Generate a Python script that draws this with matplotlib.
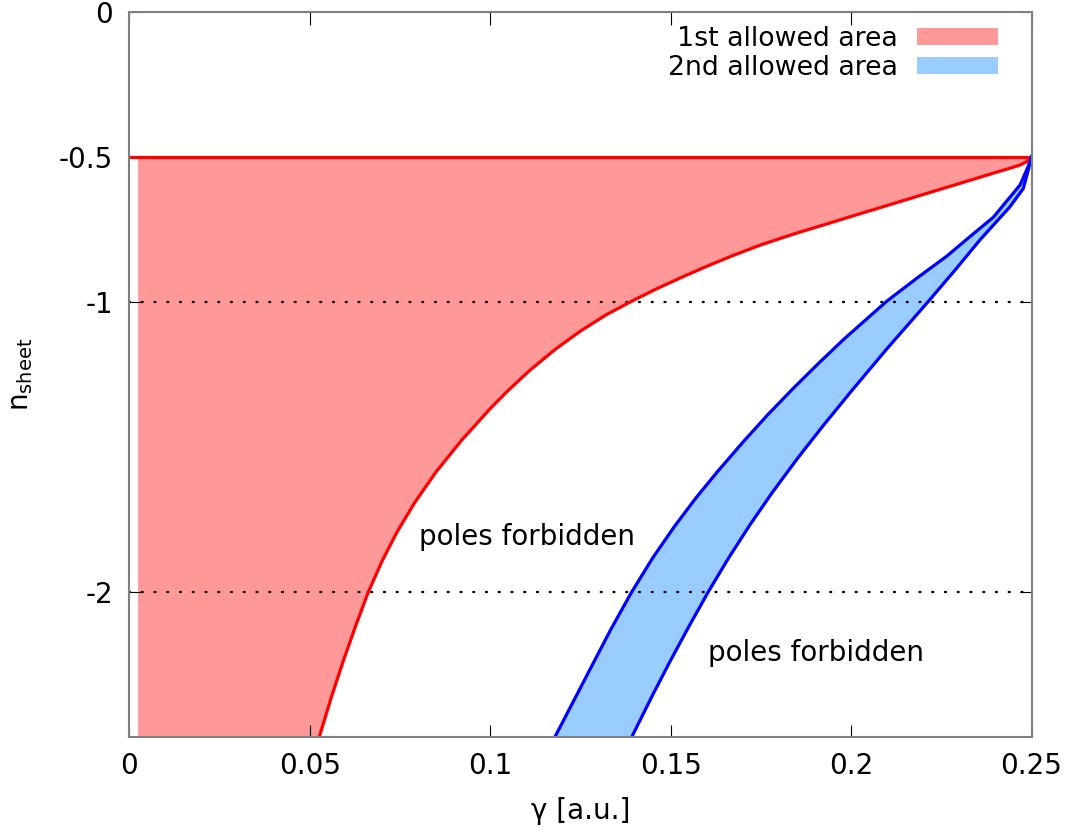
import matplotlib
matplotlib.use("Agg")
import matplotlib.pyplot as plt
from matplotlib.patches import Patch

plt.rcParams['font.family'] = ['DejaVu Sans']
plt.rcParams['axes.unicode_minus'] = False

# ---- data ----
red_gamma = [0.0526, 0.0560, 0.0593, 0.0628, 0.0662, 0.0700, 0.0740, 0.0790,
             0.0850, 0.0920, 0.1000, 0.1050, 0.1110, 0.1180, 0.1250, 0.1320,
             0.1392, 0.1460, 0.1530, 0.1600, 0.1670, 0.1750, 0.1840, 0.1930,
             0.2024, 0.2117, 0.2209, 0.2302, 0.2394, 0.2440, 0.2468, 0.2486,
             0.2500]
red_n = [-2.500, -2.361, -2.236, -2.113, -2.000, -1.894, -1.797, -1.693,
         -1.586, -1.478, -1.368, -1.305, -1.236, -1.164, -1.101, -1.046,
         -0.998, -0.956, -0.916, -0.878, -0.842, -0.804, -0.767, -0.733,
         -0.697, -0.662, -0.627, -0.592, -0.557, -0.540, -0.529, -0.518,
         -0.500]
red_left_gamma = 0.0024
red_top_n = -0.5

blue_left_gamma = [0.1179, 0.1230, 0.1280, 0.1335, 0.1392, 0.1450, 0.1510, 0.1570,
                   0.1630, 0.1700, 0.1770, 0.1840, 0.1910, 0.1980, 0.2099, 0.2182,
                   0.2265, 0.2329, 0.2394, 0.2468, 0.2491, 0.2500]
blue_left_n = [-2.500, -2.378, -2.258, -2.127, -2.000, -1.883, -1.775, -1.676,
               -1.585, -1.484, -1.388, -1.298, -1.212, -1.129, -0.998, -0.919,
               -0.843, -0.776, -0.709, -0.598, -0.533, -0.500]
blue_right_gamma = [0.1392, 0.1450, 0.1500, 0.1550, 0.1604, 0.1660, 0.1720, 0.1780,
                    0.1850, 0.1920, 0.2000, 0.2100, 0.2214, 0.2288, 0.2357, 0.2440,
                    0.2477, 0.2491, 0.2500]
blue_right_n = [-2.500, -2.355, -2.235, -2.120, -2.000, -1.884, -1.768, -1.660,
                -1.542, -1.431, -1.309, -1.161, -0.999, -0.891, -0.787, -0.673,
                -0.610, -0.546, -0.500]

dotted_levels = [-1, -2]
x_ticks = [0, 0.05, 0.1, 0.15, 0.2, 0.25]
x_tick_labels = ['0', '0.05', '0.1', '0.15', '0.2', '0.25']
y_ticks = [0, -0.5, -1, -2]
y_tick_labels = ['0', '-0.5', '-1', '-2']
legend_labels = ['1st allowed area', '2nd allowed area']
annotations = [('poles forbidden', 0.1102, -1.811), ('poles forbidden', 0.1903, -2.211)]

red_fill = '#ff9999'
blue_fill = '#99ccff'
FS = 20
LFS = 19.3

fig = plt.figure(figsize=(10.77, 8.34), dpi=100)
ax = fig.add_axes([0.1202, 0.1163, 0.8376, 0.8699])
ax.set_xlim(0, 0.25)
ax.set_ylim(-2.5, 0)

# red allowed area
poly_x = [red_left_gamma] + red_gamma[::-1] + [red_left_gamma]
poly_y = [red_top_n] + red_n[::-1] + [red_n[0]]
ax.fill(poly_x, poly_y, color=red_fill, lw=0, zorder=1)

# blue allowed area
bx = blue_left_gamma + blue_right_gamma[::-1]
by = blue_left_n + blue_right_n[::-1]
ax.fill(bx, by, color=blue_fill, lw=0, zorder=1)

# dotted reference lines
for lv in dotted_levels:
    ax.plot([0, 0.25], [lv, lv], color='black', lw=1.7,
            linestyle=(0, (0.4, 5.0)), dash_capstyle='round', zorder=2)

# boundary lines
ax.plot([0, 0.25], [red_top_n, red_top_n], color='#ff0000', lw=2.3, zorder=3)
ax.plot(red_gamma, red_n, color='#ff0000', lw=2.3, zorder=3, solid_joinstyle='round')
ax.plot(blue_left_gamma, blue_left_n, color='#0000ff', lw=2.3, zorder=3, solid_joinstyle='round')
ax.plot(blue_right_gamma, blue_right_n, color='#0000ff', lw=2.3, zorder=3, solid_joinstyle='round')

for txt, gx, gn in annotations:
    ax.text(gx, gn, txt, fontsize=FS, ha='center', va='center', zorder=4)

ax.set_xticks(x_ticks)
ax.set_xticklabels(x_tick_labels)
ax.set_yticks(y_ticks)
ax.set_yticklabels(y_tick_labels)
ax.tick_params(axis='both', direction='in', length=9, width=0.8, labelsize=FS,
               top=True, right=True, color='black')
ax.tick_params(axis='x', pad=11)
ax.tick_params(axis='y', pad=12)
for sp in ax.spines.values():
    sp.set_color('#7f7f7f')
    sp.set_linewidth(1.5)
    sp.set_zorder(5)

ax.set_xlabel('γ [a.u.]', fontsize=FS, labelpad=12)
ax.set_ylabel(r'n$_{\mathregular{sheet}}$', fontsize=FS)
ax.yaxis.set_label_coords(-0.105, 0.5)

handles = [Patch(facecolor=red_fill, edgecolor='none', label=legend_labels[0]),
           Patch(facecolor=blue_fill, edgecolor='none', label=legend_labels[1])]
ax.legend(handles=handles, loc='upper right', frameon=False, markerfirst=False,
          fontsize=LFS, handlelength=3.03, handleheight=0.6, handletextpad=0.71,
          labelspacing=0.1, borderpad=0.0, borderaxespad=0.0,
          bbox_to_anchor=(0.963, 0.9796))

fig.savefig('out.png', dpi=100)
